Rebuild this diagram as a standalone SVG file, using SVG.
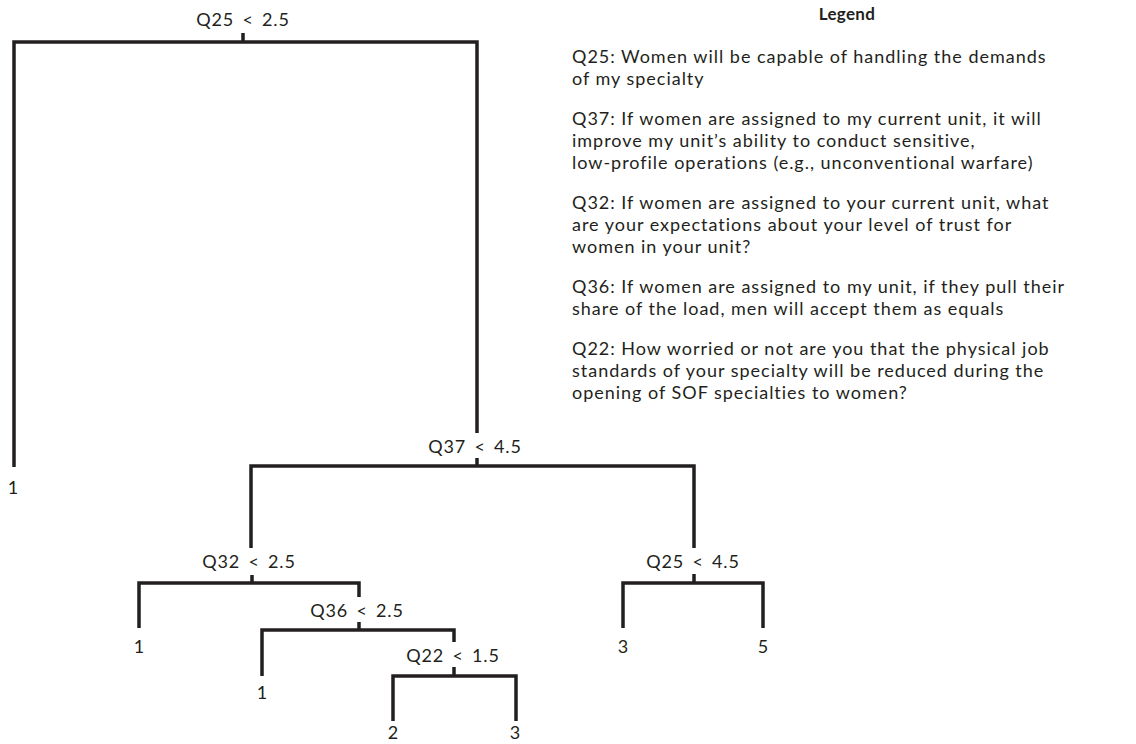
<svg xmlns="http://www.w3.org/2000/svg" width="1136" height="744" viewBox="0 0 1136 744">
<style>
text{font-family:Lato,"Open Sans","Liberation Sans",sans-serif;font-size:18px;fill:#231f20}
.c{text-anchor:middle}
.t{word-spacing:3px;letter-spacing:0.8px}
.l{letter-spacing:0.98px}
.b{font-weight:bold;font-size:17px;letter-spacing:0.3px}
.e{fill:none;stroke:#231f20;stroke-width:3.5;stroke-linecap:butt;stroke-linejoin:miter}
</style>
<rect width="1136" height="744" fill="#ffffff"/>
<g id="connectors">
<path class="e" d="M243,33V42M14,467V42H477V433"/>
<path class="e" d="M477,458V466M251,548V466H694V548"/>
<path class="e" d="M252,575V583M139,628V583H359V597"/>
<path class="e" d="M359,622V630M262,676V630H454V642"/>
<path class="e" d="M454,667V676M393,721V676H516V721"/>
<path class="e" d="M694,574V583M623,628V583H763V628"/>
</g>
<g id="n-root"><text class="c t" x="243" y="26">Q25 &lt; 2.5</text></g>
<g id="n-leaf1"><text class="c" x="13" y="494">1</text></g>
<g id="n-q37"><text class="c t" x="475" y="453">Q37 &lt; 4.5</text></g>
<g id="n-q32"><text class="c t" x="249" y="568">Q32 &lt; 2.5</text></g>
<g id="n-leaf2"><text class="c" x="139" y="653">1</text></g>
<g id="n-q36"><text class="c t" x="357" y="617">Q36 &lt; 2.5</text></g>
<g id="n-leaf3"><text class="c" x="262" y="699">1</text></g>
<g id="n-q22"><text class="c t" x="453" y="662">Q22 &lt; 1.5</text></g>
<g id="n-leaf4"><text class="c" x="393" y="739">2</text></g>
<g id="n-leaf5"><text class="c" x="515" y="739">3</text></g>
<g id="n-q25b"><text class="c t" x="693" y="568">Q25 &lt; 4.5</text></g>
<g id="n-leaf6"><text class="c" x="623" y="653">3</text></g>
<g id="n-leaf7"><text class="c" x="763" y="653">5</text></g>
<g id="legend">
<text class="c b" x="847" y="20">Legend</text>
<text class="l" x="572" y="63">Q25: Women will be capable of handling the demands<tspan x="572" dy="22">of my specialty</tspan></text>
<text class="l" x="572" y="125">Q37: If women are assigned to my current unit, it will<tspan x="572" dy="22">improve my unit’s ability to conduct sensitive,</tspan><tspan x="572" dy="22">low-profile operations (e.g., unconventional warfare)</tspan></text>
<text class="l" x="572" y="209">Q32: If women are assigned to your current unit, what<tspan x="572" dy="22">are your expectations about your level of trust for</tspan><tspan x="572" dy="22">women in your unit?</tspan></text>
<text class="l" x="572" y="293">Q36: If women are assigned to my unit, if they pull their<tspan x="572" dy="22">share of the load, men will accept them as equals</tspan></text>
<text class="l" x="572" y="355">Q22: How worried or not are you that the physical job<tspan x="572" dy="22">standards of your specialty will be reduced during the</tspan><tspan x="572" dy="22">opening of SOF specialties to women?</tspan></text>
</g>
</svg>
